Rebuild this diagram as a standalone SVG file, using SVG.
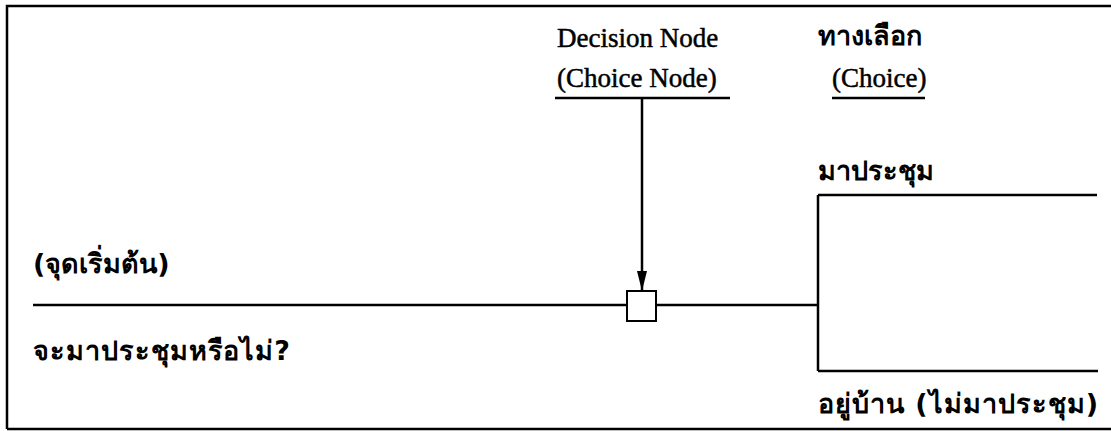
<svg xmlns="http://www.w3.org/2000/svg" width="1111" height="431" viewBox="0 0 1111 431">
<defs>
<style>
.en{font-family:"Liberation Serif","Times New Roman",serif;font-size:27px;fill:#000;stroke:#000;stroke-width:0.5}
.th{font-family:"DejaVu Sans","Noto Sans",sans-serif;font-size:27px;font-weight:bold;fill:#000}
.ln{stroke:#000;stroke-width:2.5;fill:none}
</style>
<marker id="ah2" viewBox="0 0 10 10" refX="10" refY="5" markerWidth="20" markerHeight="10" markerUnits="userSpaceOnUse" orient="auto" preserveAspectRatio="none">
<path d="M0,0 L10,5 L0,10 Z" fill="#000"/>
</marker>
</defs>
<rect x="0" y="0" width="1111" height="431" fill="#fff"/>
<g id="frame">
<path class="ln" d="M7,429 L7,6 L1111,6" stroke-width="3"/>
<path class="ln" d="M7,429 L1111,429"/>
</g>
<g id="labels">
<text class="en" x="557" y="47">Decision Node</text>
<text class="en" x="557" y="87">(Choice Node)</text>
<text class="th" x="818" y="45">ทางเลือก</text>
<text class="en" x="832" y="87">(Choice)</text>
<text class="th" x="818" y="180">มาประชุม</text>
<text class="th" x="33" y="273">(จุดเริ่มต้น)</text>
<text class="th" x="33" y="360" textLength="257" lengthAdjust="spacing">จะมาประชุมหรือไม่?</text>
<text class="th" x="818" y="413" textLength="280" lengthAdjust="spacing">อยู่บ้าน (ไม่มาประชุม)</text>
</g>
<g id="node-decision">
<rect x="627" y="291" width="29" height="30" fill="#fff" stroke="#000" stroke-width="2"/>
</g>
<g id="connectors">
<path class="ln" d="M555,98 L730,98"/>
<path class="ln" d="M832,98 L925,98"/>
<path class="ln" d="M642,98 L642,291" marker-end="url(#ah2)"/>
<path class="ln" d="M33,305 L627,305"/>
<path class="ln" d="M656,305 L818,305"/>
<path class="ln" d="M818,195 L818,371"/>
<path class="ln" d="M818,195 L1097,195"/>
<path class="ln" d="M818,371 L1098,371"/>
</g>
</svg>
